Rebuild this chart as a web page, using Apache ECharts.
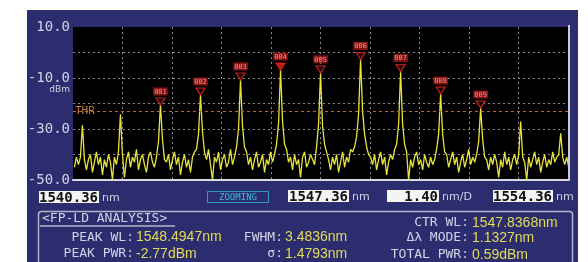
<!DOCTYPE html>
<html>
<head>
<meta charset="utf-8">
<script src="https://cdn.jsdelivr.net/npm/echarts@6/dist/echarts.min.js"></script>
<style>
  html, body { margin: 0; padding: 0; background: #fff; }
  #chart { width: 588px; height: 262px; }
</style>
</head>
<body>
<div id="chart"></div>
<script>
// OSA trace, sampled every traceStepNm from traceStartNm (dBm)
const traceStartNm = 1540.40;
const traceStepNm = 0.0566;
const traceDbm = [
  -45, -41, -44, -41, -28.5, -42, -46, -42, -40, -47, -43, -39, -44, -41, -48, -42, -45, -40, -43, -50,
  -41, -44, -39, -24.2, -40, -49, -42, -39, -45, -41, -43, -38, -46, -42, -40, -44, -47, -41, -39, -43,
  -45, -41, -35, -20.6, -34, -42, -43, -40, -46, -42, -39, -44, -41, -48, -43, -40, -45, -42, -47, -41,
  -39, -38, -32, -16.7, -31, -39, -42, -38, -44, -50, -41, -43, -39, -46, -42, -40, -45, -43, -38, -44,
  -41, -37, -30, -10.8, -29, -37, -39, -44, -41, -46, -42, -39, -45, -43, -40, -47, -42, -44, -39, -43,
  -40, -36, -28, -6.9, -27, -36, -38, -43, -41, -46, -40, -44, -42, -49, -41, -39, -45, -43, -40, -42,
  -44, -37, -28, -8.0, -29, -36, -39, -42, -46, -41, -44, -40, -47, -43, -39, -45, -41, -43, -38, -39,
  -37, -33, -24, -2.77, -23, -32, -37, -40, -41, -44, -40, -46, -42, -39, -44, -41, -48, -43, -40, -42,
  -38, -36, -28, -7.5, -28, -36, -39, -50, -42, -45, -41, -39, -44, -42, -46, -40, -43, -45, -41, -44,
  -42, -38, -32, -16.3, -32, -39, -40, -45, -42, -39, -44, -41, -47, -43, -40, -45, -42, -38, -44, -41,
  -43, -40, -35, -21.8, -34, -41, -42, -46, -41, -44, -40, -43, -49, -42, -45, -39, -44, -41, -46, -42,
  -40, -44, -40, -27.1, -41, -43, -50, -41, -45, -42, -39, -44, -41, -47, -43, -40, -45, -42, -44, -39,
  -43, -41, -40, -31.7, -41, -44, -41, -45
];

// detected modes (index into the trace) and their marker names
const markerIdx = [43, 63, 83, 103, 123, 143, 163, 183, 203];
const markerNames = ['001', '002', '003', '004', '005', '006', '007', '008', '009'];
const activeMarker = 3;
const thrDbm = -23;

// axes
const xMinNm = 1540.36;
const xMaxNm = 1554.36;
const yMin = -50;
const yMax = 10;
const yLabelValues = [10, -10, -30, -50];

// readouts
const startText = '1540.36';
const centerText = '1547.36';
const spanText = '1.40';
const stopText = '1554.36';
const leftLabels = ['PEAK WL:', 'PEAK PWR:'];
const leftValues = ['1548.4947nm', '-2.77dBm'];
const midLabels = ['FWHM:', 'σ:'];
const midValues = ['3.4836nm', '1.4793nm'];
const rightLabels = ['CTR WL:', 'Δλ MODE:', 'TOTAL PWR:'];
const rightValues = ['1547.8368nm', '1.1327nm', '0.59dBm'];

const traceNm = traceDbm.map((v, i) => traceStartNm + i * traceStepNm);

const LAV = '#d2d2e6';
const YEL = '#e2da5a';
const LABEL_FONT = '13px "DejaVu Sans Mono"';
const VALUE_FONT = '14px "Liberation Sans"';
const BOX_FONT = 'bold 14px "DejaVu Sans Mono"';
const UNIT_FONT = '11px "DejaVu Sans"';

function txt(x, y, s, color, font, align) {
  return {
    type: 'text', x: x, y: y, z: 100,
    style: { text: s, fill: color, font: font, align: align || 'left', verticalAlign: 'middle' }
  };
}
function box(x, y, w, h, s, unit) {
  let els = [
    { type: 'rect', z: 100, shape: { x: x, y: y, width: w, height: h }, style: { fill: '#f4f4f4' } },
    txt(x + w - 1, y + h / 2 + 1, s, '#111', BOX_FONT, 'right')
  ];
  if (unit) els.push(txt(x + w + 3, y + h / 2 + 1, unit, LAV, UNIT_FONT));
  return els;
}

let graphics = [
  // white paper around the instrument panel
  { type: 'rect', z: 1, shape: { x: 0, y: 0, width: 588, height: 10 }, style: { fill: '#fff' } },
  { type: 'rect', z: 1, shape: { x: 0, y: 0, width: 27, height: 262 }, style: { fill: '#fff' } },
  { type: 'rect', z: 1, shape: { x: 578, y: 0, width: 10, height: 262 }, style: { fill: '#fff' } },
  // right frame of the trace area
  { type: 'line', z: 100, shape: { x1: 569, y1: 25, x2: 569, y2: 181 }, style: { stroke: '#c8c8da', lineWidth: 2 } },
  txt(70, 90, 'dBm', LAV, '9px "DejaVu Sans"', 'right'),
  txt(75, 111, 'THR', '#c8782c', '11px "DejaVu Sans Mono"'),
  // bottom readouts
  ...box(39, 191, 60, 12, startText, 'nm'),
  { type: 'rect', z: 100, shape: { x: 207.5, y: 191.5, width: 61, height: 11 }, style: { fill: 'none', stroke: '#2c9cc0', lineWidth: 1 } },
  txt(238, 197.5, 'ZOOMING', '#40b8dc', '9px "DejaVu Sans Mono"', 'center'),
  ...box(288, 190, 61, 12, centerText, 'nm'),
  ...box(387, 190, 52, 12, spanText, 'nm/D'),
  ...box(493, 190, 60, 12, stopText, 'nm'),
  // analysis panel
  { type: 'rect', z: 100, shape: { x: 38.5, y: 211.5, width: 534, height: 60, r: 3 }, style: { fill: 'none', stroke: '#b4b4cc', lineWidth: 1.5 } },
  txt(42, 219, '<FP-LD ANALYSIS>', LAV, LABEL_FONT),
  { type: 'line', z: 100, shape: { x1: 40, y1: 226, x2: 175, y2: 226 }, style: { stroke: '#b4b4cc', lineWidth: 1.5 } }
];
const leftRows = [237.5, 254];
leftLabels.forEach((s, i) => {
  graphics.push(txt(134, leftRows[i], s, LAV, LABEL_FONT, 'right'));
  graphics.push(txt(136, leftRows[i], leftValues[i], YEL, VALUE_FONT));
  graphics.push(txt(283, leftRows[i], midLabels[i], LAV, LABEL_FONT, 'right'));
  graphics.push(txt(285, leftRows[i], midValues[i], YEL, VALUE_FONT));
});
const rightRows = [223, 238, 255];
rightLabels.forEach((s, i) => {
  graphics.push(txt(469, rightRows[i], s, LAV, LABEL_FONT, 'right'));
  graphics.push(txt(472, rightRows[i], rightValues[i], YEL, VALUE_FONT));
});

let myChart = echarts.init(document.getElementById('chart'), null, { renderer: 'canvas' });
let option = {
  animation: false,
  backgroundColor: '#2c2d6e',
  grid: {
    left: 73, top: 27, width: 495, height: 153,
    show: true, backgroundColor: '#000', borderWidth: 0
  },
  xAxis: [
    {
      type: 'value', min: xMinNm, max: xMaxNm,
      axisLine: { show: true, onZero: false, lineStyle: { color: '#d8d8e8', width: 2 } },
      axisTick: { show: false }, axisLabel: { show: false }, splitLine: { show: false }
    },
    {
      // 10 divisions of 1.40 nm, only for the graticule
      type: 'value', min: 0, max: 10, interval: 1, position: 'top',
      axisLine: { show: false }, axisTick: { show: false }, axisLabel: { show: false },
      splitLine: { show: true, showMinLine: false, showMaxLine: false, lineStyle: { color: '#8a8a8a', type: [2, 3], width: 1 } }
    }
  ],
  yAxis: {
    type: 'value', min: yMin, max: yMax, interval: 10,
    axisLine: { show: false }, axisTick: { show: false },
    axisLabel: {
      margin: 3, color: LAV, fontFamily: 'DejaVu Sans Mono', fontSize: 14,
      formatter: v => yLabelValues.includes(v) ? v.toFixed(1) : ''
    },
    splitLine: { show: true, showMinLine: false, showMaxLine: false, lineStyle: { color: '#8a8a8a', type: [2, 3], width: 1 } }
  },
  series: [
    {
      type: 'line',
      xAxisIndex: 0,
      data: traceDbm.map((v, i) => [traceNm[i], v]),
      showSymbol: false,
      lineStyle: { color: '#e8e43c', width: 1.3 },
      z: 3,
      markLine: {
        silent: true, symbol: 'none', label: { show: false },
        lineStyle: { color: '#c0661e', type: [3, 3], width: 1 },
        data: [{ yAxis: thrDbm }]
      }
    },
    {
      type: 'scatter',
      xAxisIndex: 0,
      z: 5,
      symbol: 'path://M0,0 L10,0 L5,8 Z',
      symbolSize: [9, 7],
      symbolOffset: [0, -3.5],
      itemStyle: { color: '#1a0000', borderColor: '#e02424', borderWidth: 1.3 },
      label: {
        show: true, position: 'top', distance: 2,
        formatter: p => markerNames[p.dataIndex],
        fontFamily: 'DejaVu Sans Mono', fontSize: 7, color: '#ffb4b4',
        backgroundColor: '#a81414', padding: [1, 1, 0, 1]
      },
      data: markerIdx.map((idx, i) => ({
        value: [traceNm[idx], traceDbm[idx]],
        itemStyle: i === activeMarker ? { color: '#e82020', borderColor: '#e82020' } : undefined
      }))
    }
  ],
  graphic: graphics
};
myChart.setOption(option);
</script>
</body>
</html>
